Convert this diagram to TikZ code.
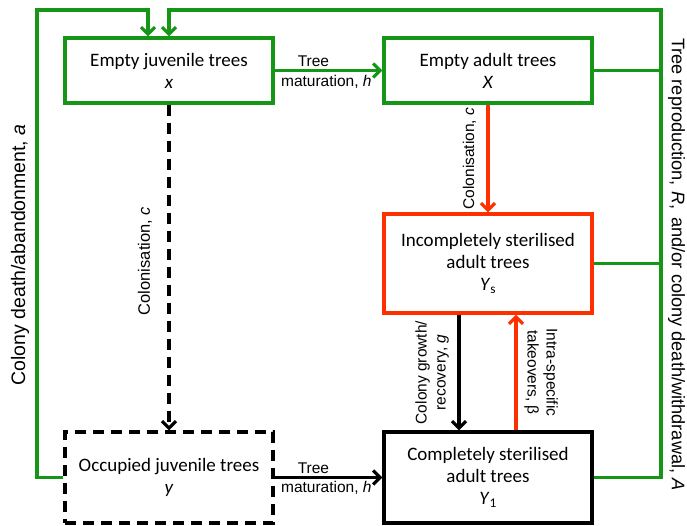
\documentclass[tikz,border=0pt]{standalone}
\usepackage{fontspec}
\setmainfont{Liberation Sans}
\newfontfamily\boxfont{Carlito}
\usetikzlibrary{arrows.meta,positioning}
\definecolor{treegreen}{RGB}{22,150,22}
\definecolor{takered}{RGB}{255,48,0}

\begin{document}
\begin{tikzpicture}[x=1pt,y=-1pt,line width=3.2pt,
    >={Straight Barb[length=7pt,width=14pt]},
    box node/.style={rectangle,draw,align=center,minimum width=208pt,text=black,
      font=\boxfont\fontsize{19}{22}\selectfont},
    green box/.style={box node,draw=treegreen,minimum height=65pt},
    red box/.style={box node,draw=takered,minimum height=99pt},
    black box/.style={box node,draw=black,minimum height=91pt},
    dash box/.style={box node,draw=black,dash pattern=on 11pt off 7pt,minimum height=91pt},
    lbl/.style={text=black,align=center,inner sep=0pt,font=\fontsize{15.5}{18}\selectfont},
    side lbl/.style={text=black,align=center,inner sep=0pt,font=\fontsize{15.5}{19}\selectfont},
    col lbl/.style={text=black,inner sep=0pt,font=\fontsize{16.5}{19}\selectfont},
    big lbl/.style={text=black,inner sep=0pt,font=\fontsize{19.5}{22}\selectfont}]

  \useasboundingbox (0,0) rectangle (687,525);

  % compartments
  \node[green box] (ejuv) at (169,70.5) {Empty juvenile trees\\\textit{x}};
  \node[green box] (eadult) [right of=ejuv, node distance=319pt] {Empty adult trees\\\textit{X}};
  \node[red box] (incomp) [below of=eadult, node distance=193pt] {Incompletely sterilised\\adult trees\\\textit{Y}\textsubscript{s}};
  \node[black box] (compl) [below of=incomp, node distance=214pt] {Completely sterilised\\adult trees\\\textit{Y}\textsubscript{1}};
  \node[dash box] (ocjuv) [below of=ejuv, node distance=407pt] {Occupied juvenile trees\\\textit{y}};

  \coordinate (lefttop) at (37,10);
  \coordinate (righttop) at (661,10);

  % transitions
  \path[->,treegreen]
    (ejuv) edge node[lbl,pos=0.36,yshift=9pt] {Tree}
                node[lbl,pos=0.48,yshift=-11.5pt] {maturation, \textit{h}} (eadult);

  \path[->,black]
    (ocjuv) edge node[lbl,pos=0.36,yshift=9.5pt] {Tree}
                 node[lbl,pos=0.48,yshift=-10pt] {maturation, \textit{h}} (compl)
    ([xshift=-29pt]incomp.south) edge node[side lbl,pos=0.5,xshift=-27pt,rotate=90] {Colony growth/\\recovery, \textit{g}} ([xshift=-29pt]compl.north);

  \path[->,black,dash pattern=on 11pt off 7pt]
    (ejuv) edge node[col lbl,pos=0.48,xshift=-24pt,rotate=90] {Colonisation, \textit{c}} (ocjuv);

  \path[->,takered]
    (eadult) edge node[col lbl,pos=0.5,xshift=-18.5pt,rotate=90,font=\fontsize{15.5}{18}\selectfont] {Colonisation, \textit{c}} (incomp)
    ([xshift=28pt]compl.north) edge node[side lbl,pos=0.5,xshift=25pt,rotate=-90] {Intra-specific\\takeovers, β} ([xshift=28pt]incomp.south);

  % feedback to empty juvenile trees
  \draw[->,treegreen] (ocjuv.west) -| node[big lbl,pos=0.738,xshift=-17pt,rotate=90] {Colony death/abandonment, \textit{a}} (lefttop)
    -| ([xshift=-21pt]ejuv.north);
  \draw[->,treegreen] (eadult.east) -| (righttop) -| (ejuv.north);
  \draw[treegreen] (incomp.east) -| (righttop);
  \draw[treegreen] (compl.east) -| node[big lbl,pos=0.728,xshift=15.5pt,rotate=-90,font=\fontsize{18.2}{20}\selectfont] {Tree reproduction, \textit{R}, \,and/or colony death/withdrawal, \textit{A}} (righttop);

\end{tikzpicture}
\end{document}
